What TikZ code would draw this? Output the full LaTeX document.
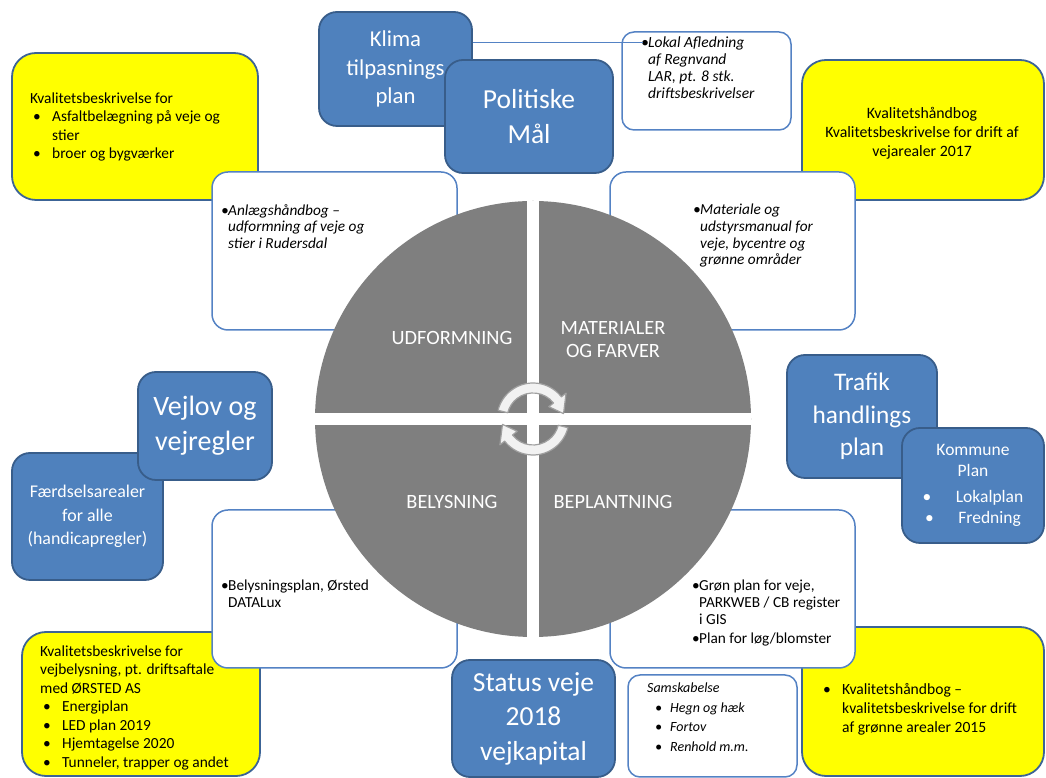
\documentclass[tikz,border=0pt]{standalone}
\usepackage{fontspec}
\setmainfont{Carlito}
\definecolor{boxblue}{RGB}{79,129,189}
\definecolor{boxblueedge}{RGB}{56,93,138}
\definecolor{noteedge}{RGB}{84,130,196}
\definecolor{markyellow}{RGB}{255,255,0}
\definecolor{markedge}{RGB}{60,100,150}
\definecolor{diskgray}{RGB}{127,127,127}
\definecolor{cyclefill}{RGB}{242,242,242}
\definecolor{cycleedge}{RGB}{160,160,160}
\usetikzlibrary{positioning,calc}
\newcommand{\blt}{\makebox[22pt][l]{\hspace{3pt}\textbullet}}
\newcommand{\bind}{\hspace*{22pt}}
\newcommand{\dotb}{\makebox[7pt][l]{\textbullet}}
\newcommand{\doti}{\hspace*{7pt}}
\newcommand{\indblt}{\makebox[23pt][l]{\hspace{8pt}\textbullet}}

\begin{document}
\begin{tikzpicture}[x=1pt, y=1pt,
    markbox/.style={draw=markedge, line width=1.8pt, fill=markyellow, rounded corners=24pt},
    notebox/.style={draw=noteedge, line width=1.5pt, fill=white, rounded corners=16pt},
    bluebox/.style={draw=boxblueedge, line width=1.8pt, fill=boxblue, rounded corners=18pt, text=white, align=center, inner sep=2pt},
    bodytext/.style={align=left, inner sep=0pt, font=\fontsize{15.4}{18.5}\selectfont},
    notetext/.style={anchor=north west, align=left, inner sep=0pt, font=\fontsize{15.3}{16.6}\selectfont},
    italictext/.style={notetext, font=\fontsize{15.3}{16.6}\selectfont\itshape},
    quadlabel/.style={text=white, align=center, font=\fontsize{20.3}{23}\selectfont},
    cyclearrow/.style={fill=cyclefill, draw=cycleedge, line width=1.2pt, line join=round},
    gapline/.style={draw=white, line width=12pt},
    linkline/.style={draw=noteedge, line width=1pt}]
    \useasboundingbox (0,0) rectangle (1046,778);

    \node[markbox, minimum width=246pt, minimum height=147pt] (ytl) at (135,651.5) {};
    \node[markbox, minimum width=242pt, minimum height=140pt] (ytr) at (923,648) {};
    \node[markbox, minimum width=238pt, minimum height=144pt] (ybl) at (141,74) {};
    \node[markbox, minimum width=242pt, minimum height=149pt] (ybr) at (923,76.5) {};

    \node[bodytext, anchor=west] (ytltext) at (30,651) {Kvalitetsbeskrivelse for\\ \blt Asfaltbelægning på veje og\\ \bind stier\\ \blt broer og bygværker};
    \node[bodytext, align=center, font=\fontsize{15.8}{19}\selectfont] (ytrtext) at (922,645) {Kvalitetshåndbog\\ Kvalitetsbeskrivelse for drift af\\ vejarealer 2017};
    \node[bodytext, anchor=west] (ybltext) at (40,70.5) {Kvalitetsbeskrivelse for\\ vejbelysning, pt. driftsaftale\\ med ØRSTED AS\\ \blt Energiplan\\ \blt LED plan 2019\\ \blt Hjemtagelse 2020\\ \blt Tunneler, trapper og andet};
    \node[bodytext, anchor=west, font=\fontsize{15.6}{19}\selectfont] (ybrtext) at (820,69) {\blt Kvalitetshåndbog –\\ \bind kvalitetsbeskrivelse for drift\\ \bind af grønne arealer 2015};

    \node[notebox, minimum width=245pt, minimum height=158pt] (wtl) at (334.5,527) {};
    \node[notebox, minimum width=245pt, minimum height=158pt] (wtr) at (732.5,527) {};
    \node[notebox, minimum width=245pt, minimum height=158pt] (wbl) at (334.5,189) {};
    \node[notebox, minimum width=245pt, minimum height=158pt] (wbr) at (732.5,189) {};

    \node[italictext] (wtltext) at (221,574) {\dotb Anlægshåndbog –\\ \doti udformning af veje og\\ \doti stier i Rudersdal};
    \node[italictext] (wtrtext) at (693,574) {\dotb Materiale og\\ \doti udstyrsmanual for\\ \doti veje, bycentre og\\ \doti grønne områder};
    \node[notetext] (wbltext) at (221,198) {\dotb Belysningsplan, Ørsted\\ \doti DATALux};
    \node[notetext] (wbrtext) at (692,198) {\dotb Grøn plan for veje,\\ \doti PARKWEB / CB register\\ \doti i GIS\\[3pt] \dotb Plan for løg/blomster};

    \node[circle, fill=diskgray, minimum size=436pt, inner sep=0pt, outer sep=0pt] (disk) at (533,359) {};
    \draw[gapline] (disk.north) -- (disk.south);
    \draw[gapline] (disk.west) -- (disk.east);

    \node[quadlabel] (udf) at (452,440) {UDFORMNING};
    \node[quadlabel] (mat) at (613,438.5) {MATERIALER\\ OG FARVER};
    \node[quadlabel] (bel) at (452,276) {BELYSNING};
    \node[quadlabel] (bep) at (613,276) {BEPLANTNING};

    \draw[cyclearrow] ($(disk)+(166:36)$) arc[start angle=166, end angle=38, radius=36] -- ($(disk)+(38:42)$) -- ($(disk)+(10:31)$) -- ($(disk)+(38:20)$) -- ($(disk)+(38:26)$) arc[start angle=38, end angle=166, radius=26] -- cycle;
    \draw[cyclearrow] ($(disk)+(-14:36)$) arc[start angle=-14, end angle=-142, radius=36] -- ($(disk)+(-142:42)$) -- ($(disk)+(-170:31)$) -- ($(disk)+(-142:20)$) -- ($(disk)+(-142:26)$) arc[start angle=-142, end angle=-14, radius=26] -- cycle;

    \node[notebox, rounded corners=12pt, minimum width=169pt, minimum height=98pt] (lar) at (706.5,697) {};
    \node[italictext, font=\fontsize{15.5}{17}\selectfont\itshape] (lartext) at (641,741) {\dotb Lokal Afledning\\ \doti af Regnvand\\ \doti LAR, pt. 8 stk.\\ \doti driftsbeskrivelser};
    \node[notebox, rounded corners=12pt, minimum width=169pt, minimum height=102pt] (sam) at (712.5,52) {};
    \node[italictext, font=\fontsize{14}{19.5}\selectfont\itshape] (samtext) at (647,95) {Samskabelse\\ \indblt Hegn og hæk\\ \indblt Fortov\\ \indblt Renhold m.m.};

    \node[bluebox, minimum width=153pt, minimum height=114pt, font=\fontsize{22.7}{28.5}\selectfont] (klima) at (395.5,709) {Klima\\ tilpasnings\\ plan};
    \node[bluebox, minimum width=168pt, minimum height=113pt, font=\fontsize{27.5}{35}\selectfont] (maal) at (529,661.5) {Politiske\\ Mål};
    \node[bluebox, minimum width=151pt, minimum height=127pt, font=\fontsize{17.9}{23.5}\selectfont] (faerd) at (87.5,261.5) {Færdselsarealer\\ for alle\\ (handicapregler)};
    \node[bluebox, minimum width=134pt, minimum height=108pt, font=\fontsize{28}{35}\selectfont] (vejlov) at (205,352) {Vejlov og\\ vejregler};
    \node[bluebox, minimum width=150pt, minimum height=123pt, font=\fontsize{25.3}{32.5}\selectfont] (trafik) at (862,361.5) {Trafik\\ handlings\\ plan};
    \node[bluebox, minimum width=142pt, minimum height=115pt, font=\fontsize{17.5}{20.5}\selectfont] (kommune) at (973,292.5) {Kommune\\ Plan\\[6pt] \textbullet\hspace{1.4em}Lokalplan\\ \textbullet\hspace{1.4em}Fredning};
    \node[bluebox, minimum width=163pt, minimum height=117pt, font=\fontsize{27.5}{34.5}\selectfont] (status) at (533.5,59.5) {Status veje\\ 2018\\ vejkapital};

    \coordinate (larbullet) at (643,735);
    \draw[linkline] (klima.east |- larbullet) -- (larbullet);
\end{tikzpicture}
\end{document}
